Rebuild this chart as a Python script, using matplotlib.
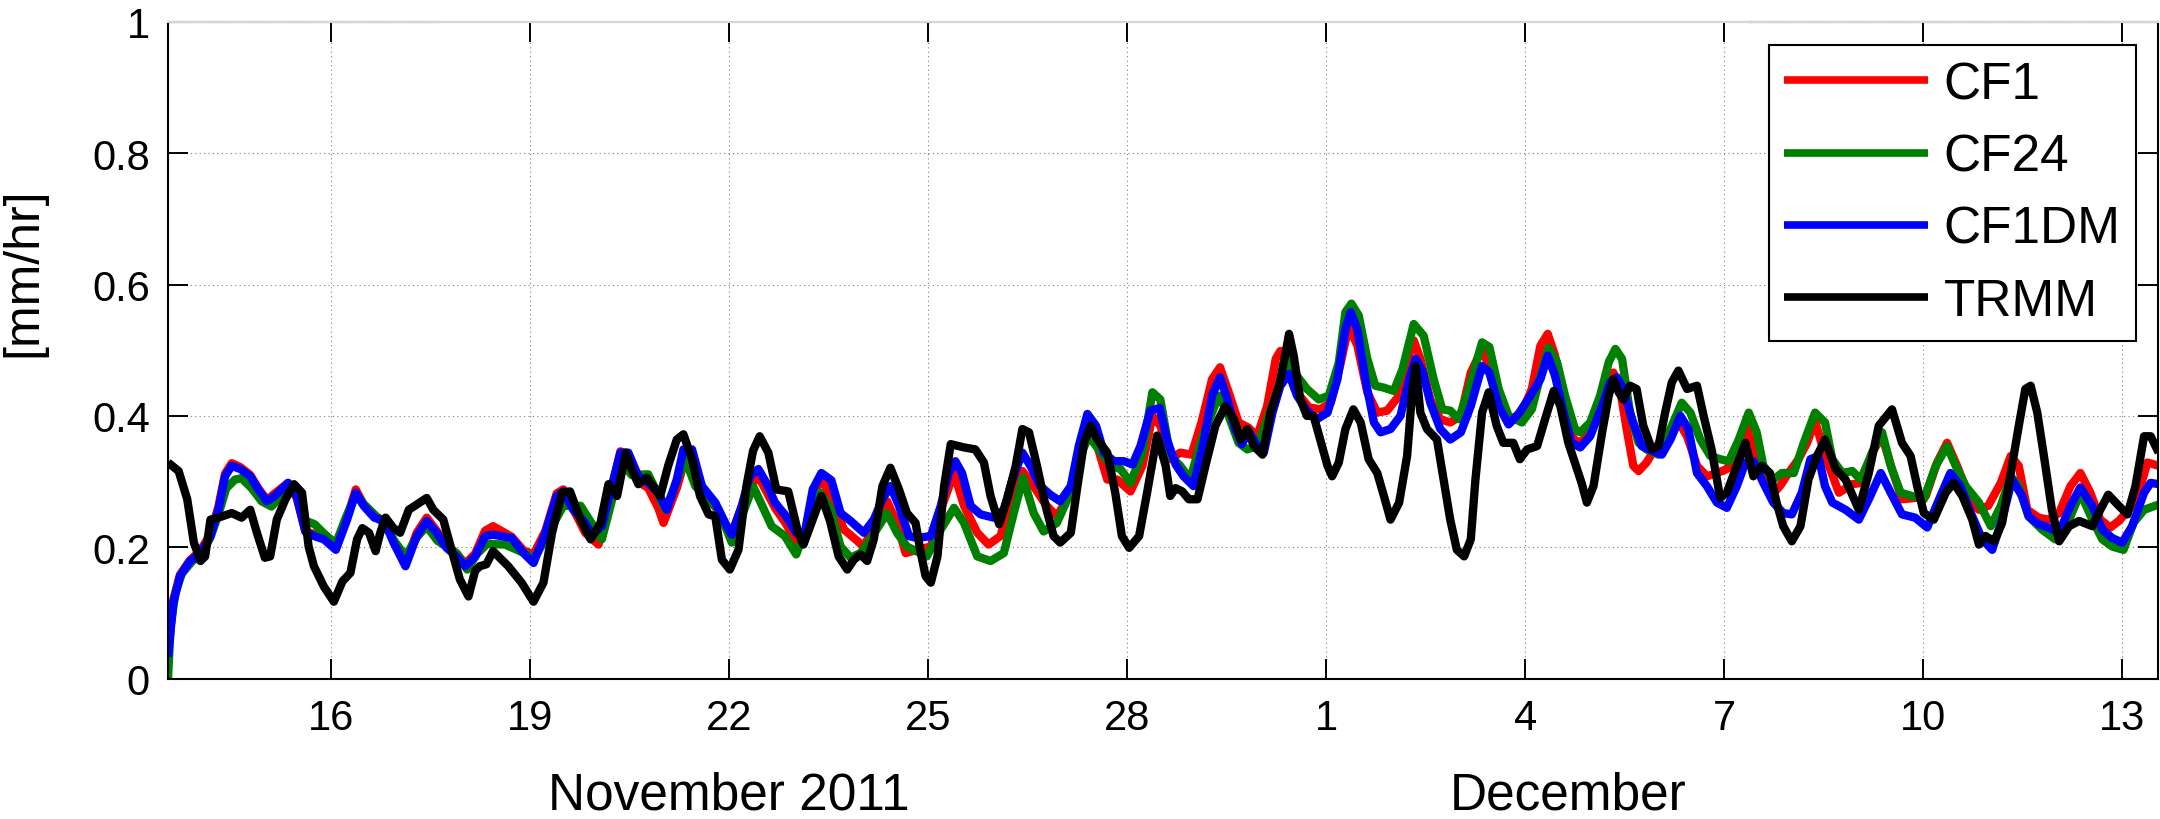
import matplotlib
matplotlib.use("Agg")
import matplotlib.pyplot as plt
import matplotlib.transforms as mtransforms

plt.rcParams["font.family"] = ["Liberation Sans", "DejaVu Sans"]

# x values are day numbers counted from 31 Oct 2011 (16 = 16 Nov, 31 = 1 Dec)
# ── CF1 (red) ────────────────────────────────────────────────────────────────
cf1_day = [13.54, 13.62, 13.72, 13.87, 14.03, 14.18, 14.30, 14.40, 14.50, 14.63,
           14.78, 14.90, 15.03, 15.15, 15.25, 15.35, 15.48, 15.61, 15.74, 15.89,
           16.07, 16.24, 16.37, 16.49, 16.65, 16.80, 16.94, 17.12, 17.29, 17.44,
           17.59, 17.74, 17.89, 18.02, 18.17, 18.32, 18.44, 18.72, 18.90, 19.05,
           19.23, 19.40, 19.50, 19.65, 19.83, 20.03, 20.23, 20.36, 20.48, 20.63,
           20.78, 20.93, 21.01, 21.21, 21.31, 21.44, 21.59, 21.79, 21.94, 22.04,
           22.19, 22.31, 22.45, 22.56, 22.69, 22.86, 23.01, 23.14, 23.26, 23.39,
           23.53, 23.73, 24.03, 24.23, 24.38, 24.53, 24.66, 24.83, 25.04, 25.21,
           25.39, 25.54, 25.74, 25.91, 26.09, 26.27, 26.42, 26.59, 26.77, 26.94,
           27.12, 27.30, 27.42, 27.55, 27.70, 27.85, 28.05, 28.23, 28.38, 28.50,
           28.65, 28.80, 28.97, 29.12, 29.28, 29.40, 29.53, 29.68, 29.83, 29.96,
           30.11, 30.24, 30.31, 30.41, 30.56, 30.74, 30.91, 31.07, 31.22, 31.34,
           31.47, 31.62, 31.77, 31.92, 32.10, 32.25, 32.32, 32.42, 32.57, 32.72,
           32.87, 33.03, 33.18, 33.35, 33.47, 33.62, 33.77, 33.97, 34.10, 34.23,
           34.34, 34.45, 34.60, 34.73, 34.85, 35.01, 35.18, 35.33, 35.43, 35.53,
           35.63, 35.71, 35.83, 35.98, 36.14, 36.29, 36.44, 36.59, 36.74, 36.89,
           37.04, 37.19, 37.33, 37.47, 37.59, 37.72, 37.84, 37.97, 38.12, 38.25,
           38.37, 38.52, 38.73, 38.93, 39.08, 39.23, 39.38, 39.53, 39.68, 39.88,
           40.04, 40.21, 40.36, 40.51, 40.69, 40.84, 40.98, 41.17, 41.32, 41.44,
           41.57, 41.74, 41.89, 42.05, 42.22, 42.37, 42.52, 42.67, 42.82, 42.95,
           43.10, 43.25, 43.38, 43.55]
cf1_val = [0.040, 0.120, 0.158, 0.180, 0.195, 0.220, 0.262, 0.312, 0.328, 0.322,
           0.310, 0.290, 0.272, 0.282, 0.290, 0.298, 0.275, 0.224, 0.220, 0.220,
           0.205, 0.245, 0.288, 0.265, 0.248, 0.240, 0.210, 0.175, 0.222, 0.245,
           0.225, 0.205, 0.190, 0.175, 0.190, 0.225, 0.232, 0.216, 0.195, 0.189,
           0.225, 0.282, 0.288, 0.258, 0.222, 0.204, 0.290, 0.346, 0.340, 0.300,
           0.290, 0.260, 0.237, 0.290, 0.325, 0.325, 0.280, 0.262, 0.232, 0.222,
           0.262, 0.295, 0.306, 0.285, 0.260, 0.235, 0.207, 0.220, 0.280, 0.303,
           0.278, 0.227, 0.201, 0.242, 0.270, 0.237, 0.191, 0.196, 0.201, 0.263,
           0.313, 0.263, 0.222, 0.204, 0.217, 0.278, 0.316, 0.293, 0.265, 0.247,
           0.278, 0.344, 0.380, 0.354, 0.303, 0.303, 0.285, 0.324, 0.400, 0.385,
           0.334, 0.344, 0.341, 0.390, 0.456, 0.474, 0.436, 0.390, 0.382, 0.369,
           0.415, 0.487, 0.499, 0.481, 0.436, 0.413, 0.410, 0.420, 0.481, 0.537,
           0.507, 0.436, 0.405, 0.408, 0.431, 0.492, 0.515, 0.487, 0.425, 0.395,
           0.390, 0.400, 0.466, 0.502, 0.471, 0.415, 0.390, 0.410, 0.441, 0.507,
           0.525, 0.492, 0.415, 0.364, 0.359, 0.385, 0.431, 0.466, 0.441, 0.380,
           0.324, 0.316, 0.329, 0.354, 0.369, 0.395, 0.369, 0.324, 0.308, 0.313,
           0.319, 0.344, 0.385, 0.339, 0.303, 0.280, 0.293, 0.313, 0.334, 0.359,
           0.392, 0.340, 0.283, 0.296, 0.298, 0.344, 0.369, 0.319, 0.273, 0.275,
           0.278, 0.329, 0.359, 0.324, 0.278, 0.257, 0.263, 0.298, 0.339, 0.324,
           0.257, 0.245, 0.242, 0.252, 0.293, 0.313, 0.283, 0.242, 0.230, 0.240,
           0.257, 0.283, 0.329, 0.324]

# ── CF24 (green) ─────────────────────────────────────────────────────────────
cf24_day = [13.54, 13.58, 13.65, 13.75, 13.90, 14.05, 14.18, 14.30, 14.42, 14.55,
            14.65, 14.80, 14.95, 15.10, 15.22, 15.35, 15.48, 15.62, 15.75, 15.90,
            16.07, 16.22, 16.37, 16.50, 16.65, 16.80, 16.95, 17.12, 17.29, 17.44,
            17.60, 17.75, 17.90, 18.05, 18.20, 18.35, 18.62, 19.07, 19.50, 19.76,
            20.08, 20.38, 20.53, 20.78, 21.04, 21.34, 21.49, 21.84, 22.04, 22.36,
            22.64, 22.84, 23.01, 23.37, 23.52, 23.68, 23.83, 23.98, 24.16, 24.38,
            24.53, 24.68, 24.98, 25.19, 25.39, 25.54, 25.74, 25.94, 26.14, 26.29,
            26.43, 26.59, 26.74, 26.94, 27.10, 27.27, 27.42, 27.57, 27.75, 27.90,
            28.05, 28.23, 28.38, 28.50, 28.65, 28.80, 28.95, 29.12, 29.38, 29.51,
            29.68, 29.81, 29.96, 30.11, 30.29, 30.41, 30.56, 30.71, 30.89, 31.04,
            31.19, 31.29, 31.38, 31.49, 31.62, 31.74, 31.87, 32.02, 32.15, 32.32,
            32.47, 32.62, 32.75, 32.87, 33.00, 33.15, 33.35, 33.46, 33.60, 33.75,
            33.95, 34.10, 34.23, 34.35, 34.48, 34.60, 34.75, 34.83, 34.98, 35.13,
            35.26, 35.36, 35.46, 35.58, 35.71, 35.83, 36.01, 36.19, 36.36, 36.49,
            36.64, 36.79, 36.94, 37.07, 37.22, 37.37, 37.49, 37.59, 37.74, 37.87,
            38.05, 38.20, 38.37, 38.52, 38.63, 38.78, 38.93, 39.06, 39.23, 39.38,
            39.51, 39.66, 39.83, 40.01, 40.19, 40.36, 40.49, 40.64, 40.84, 41.02,
            41.17, 41.32, 41.44, 41.59, 41.79, 41.99, 42.20, 42.37, 42.55, 42.70,
            42.85, 43.02, 43.17, 43.33, 43.55]
cf24_val = [0.000, 0.080, 0.130, 0.160, 0.178, 0.190, 0.215, 0.250, 0.290, 0.303,
            0.305, 0.290, 0.270, 0.262, 0.275, 0.295, 0.280, 0.240, 0.235, 0.220,
            0.205, 0.245, 0.280, 0.265, 0.250, 0.235, 0.210, 0.186, 0.215, 0.232,
            0.210, 0.200, 0.190, 0.166, 0.190, 0.205, 0.204, 0.184, 0.263, 0.263,
            0.212, 0.329, 0.310, 0.311, 0.257, 0.334, 0.293, 0.257, 0.207, 0.293,
            0.232, 0.217, 0.189, 0.283, 0.260, 0.201, 0.184, 0.191, 0.217, 0.252,
            0.222, 0.201, 0.186, 0.227, 0.260, 0.237, 0.186, 0.179, 0.191, 0.252,
            0.306, 0.252, 0.224, 0.237, 0.273, 0.334, 0.369, 0.349, 0.324, 0.319,
            0.298, 0.344, 0.436, 0.425, 0.339, 0.324, 0.303, 0.364, 0.431, 0.405,
            0.359, 0.349, 0.354, 0.395, 0.446, 0.487, 0.461, 0.441, 0.425, 0.431,
            0.481, 0.558, 0.571, 0.553, 0.487, 0.446, 0.443, 0.438, 0.471, 0.540,
            0.522, 0.456, 0.410, 0.408, 0.395, 0.441, 0.512, 0.505, 0.441, 0.400,
            0.390, 0.410, 0.461, 0.504, 0.482, 0.431, 0.380, 0.375, 0.390, 0.431,
            0.482, 0.502, 0.487, 0.405, 0.359, 0.349, 0.341, 0.380, 0.420, 0.405,
            0.364, 0.339, 0.334, 0.331, 0.364, 0.405, 0.375, 0.324, 0.303, 0.313,
            0.313, 0.359, 0.405, 0.390, 0.334, 0.313, 0.316, 0.303, 0.344, 0.375,
            0.324, 0.283, 0.278, 0.273, 0.324, 0.354, 0.324, 0.293, 0.268, 0.232,
            0.263, 0.308, 0.293, 0.247, 0.227, 0.212, 0.242, 0.283, 0.242, 0.212,
            0.201, 0.196, 0.237, 0.257, 0.265]

# ── CF1DM (blue) ─────────────────────────────────────────────────────────────
cf1dm_day = [13.54, 13.62, 13.72, 13.87, 14.03, 14.18, 14.30, 14.40, 14.50, 14.63,
             14.78, 14.90, 15.03, 15.15, 15.35, 15.48, 15.61, 15.74, 15.89, 16.07,
             16.24, 16.37, 16.49, 16.65, 16.80, 16.94, 17.12, 17.29, 17.44, 17.59,
             17.74, 17.89, 18.02, 18.17, 18.32, 18.44, 18.72, 18.90, 19.05, 19.23,
             19.40, 19.50, 19.65, 19.83, 19.93, 20.08, 20.23, 20.36, 20.48, 20.63,
             20.78, 20.93, 21.06, 21.21, 21.31, 21.44, 21.59, 21.79, 21.94, 22.04,
             22.19, 22.31, 22.44, 22.56, 22.69, 22.86, 23.01, 23.14, 23.26, 23.39,
             23.54, 23.68, 23.83, 24.03, 24.18, 24.31, 24.43, 24.56, 24.71, 24.83,
             25.04, 25.19, 25.31, 25.41, 25.51, 25.64, 25.79, 25.99, 26.14, 26.27,
             26.42, 26.54, 26.69, 26.84, 26.99, 27.15, 27.27, 27.40, 27.53, 27.65,
             27.80, 27.95, 28.08, 28.20, 28.35, 28.49, 28.60, 28.73, 28.85, 29.00,
             29.15, 29.28, 29.40, 29.51, 29.63, 29.73, 29.83, 29.96, 30.06, 30.19,
             30.31, 30.44, 30.56, 30.71, 30.86, 31.02, 31.17, 31.29, 31.37, 31.47,
             31.59, 31.72, 31.82, 31.97, 32.12, 32.25, 32.35, 32.45, 32.57, 32.72,
             32.87, 33.03, 33.18, 33.35, 33.46, 33.60, 33.75, 33.90, 34.08, 34.23,
             34.34, 34.45, 34.58, 34.70, 34.83, 34.98, 35.16, 35.28, 35.38, 35.48,
             35.61, 35.76, 35.91, 36.06, 36.19, 36.34, 36.46, 36.59, 36.74, 36.89,
             37.04, 37.19, 37.32, 37.44, 37.59, 37.74, 37.89, 38.02, 38.17, 38.30,
             38.42, 38.52, 38.63, 38.83, 39.03, 39.18, 39.36, 39.51, 39.68, 39.88,
             40.06, 40.24, 40.41, 40.56, 40.74, 40.89, 41.04, 41.19, 41.34, 41.49,
             41.59, 41.74, 41.89, 42.05, 42.22, 42.37, 42.55, 42.70, 42.85, 43.00,
             43.15, 43.33, 43.43, 43.55]
cf1dm_val = [0.033, 0.115, 0.156, 0.179, 0.191, 0.217, 0.257, 0.308, 0.324, 0.319,
             0.308, 0.288, 0.270, 0.278, 0.298, 0.278, 0.224, 0.217, 0.212, 0.196,
             0.242, 0.283, 0.263, 0.245, 0.240, 0.207, 0.171, 0.217, 0.240, 0.222,
             0.199, 0.186, 0.171, 0.186, 0.217, 0.219, 0.214, 0.191, 0.176, 0.222,
             0.278, 0.285, 0.257, 0.237, 0.219, 0.232, 0.293, 0.344, 0.344, 0.308,
             0.298, 0.283, 0.257, 0.303, 0.349, 0.349, 0.293, 0.268, 0.237, 0.219,
             0.263, 0.308, 0.319, 0.298, 0.268, 0.247, 0.222, 0.222, 0.288, 0.313,
             0.302, 0.252, 0.240, 0.222, 0.242, 0.273, 0.293, 0.263, 0.217, 0.214,
             0.217, 0.263, 0.313, 0.331, 0.313, 0.263, 0.250, 0.245, 0.257, 0.303,
             0.344, 0.324, 0.293, 0.280, 0.270, 0.293, 0.354, 0.403, 0.385, 0.344,
             0.331, 0.331, 0.326, 0.354, 0.408, 0.412, 0.364, 0.326, 0.308, 0.293,
             0.359, 0.431, 0.459, 0.425, 0.380, 0.357, 0.377, 0.354, 0.344, 0.405,
             0.446, 0.464, 0.431, 0.408, 0.395, 0.405, 0.456, 0.532, 0.558, 0.532,
             0.456, 0.390, 0.375, 0.380, 0.400, 0.456, 0.487, 0.469, 0.420, 0.380,
             0.364, 0.375, 0.415, 0.476, 0.466, 0.415, 0.387, 0.403, 0.431, 0.456,
             0.492, 0.461, 0.405, 0.359, 0.352, 0.369, 0.415, 0.451, 0.459, 0.441,
             0.395, 0.354, 0.347, 0.341, 0.364, 0.400, 0.380, 0.313, 0.293, 0.268,
             0.260, 0.293, 0.329, 0.331, 0.298, 0.268, 0.252, 0.250, 0.283, 0.334,
             0.339, 0.293, 0.268, 0.257, 0.242, 0.273, 0.313, 0.283, 0.250, 0.245,
             0.230, 0.273, 0.313, 0.293, 0.247, 0.212, 0.196, 0.242, 0.303, 0.278,
             0.247, 0.235, 0.230, 0.222, 0.263, 0.291, 0.263, 0.227, 0.214, 0.207,
             0.232, 0.283, 0.298, 0.296]

# ── TRMM (black) ─────────────────────────────────────────────────────────────
trmm_day = [13.54, 13.70, 13.83, 13.93, 14.03, 14.10, 14.18, 14.30, 14.50, 14.65,
            14.78, 14.88, 15.00, 15.08, 15.18, 15.31, 15.44, 15.56, 15.66, 15.74,
            15.89, 16.04, 16.17, 16.29, 16.39, 16.47, 16.57, 16.67, 16.74, 16.82,
            16.94, 17.04, 17.17, 17.29, 17.44, 17.54, 17.69, 17.82, 17.94, 18.07,
            18.17, 18.24, 18.34, 18.44, 18.67, 18.87, 19.05, 19.20, 19.33, 19.48,
            19.60, 19.76, 19.91, 20.06, 20.18, 20.31, 20.44, 20.53, 20.63, 20.76,
            20.96, 21.08, 21.21, 21.31, 21.44, 21.56, 21.69, 21.79, 21.89, 22.01,
            22.14, 22.26, 22.36, 22.46, 22.59, 22.71, 22.89, 23.04, 23.12, 23.24,
            23.39, 23.52, 23.65, 23.78, 23.88, 23.98, 24.08, 24.18, 24.31, 24.43,
            24.56, 24.68, 24.81, 24.88, 24.96, 25.04, 25.14, 25.24, 25.34, 25.54,
            25.71, 25.84, 25.94, 26.07, 26.19, 26.32, 26.42, 26.52, 26.64, 26.77,
            26.89, 26.99, 27.15, 27.25, 27.35, 27.45, 27.55, 27.70, 27.82, 27.92,
            28.03, 28.18, 28.30, 28.45, 28.58, 28.65, 28.73, 28.83, 28.93, 29.06,
            29.18, 29.33, 29.48, 29.61, 29.71, 29.81, 29.91, 30.04, 30.16, 30.29,
            30.39, 30.44, 30.51, 30.61, 30.71, 30.81, 30.91, 31.02, 31.09, 31.19,
            31.29, 31.41, 31.52, 31.64, 31.77, 31.87, 31.97, 32.10, 32.22, 32.30,
            32.35, 32.42, 32.52, 32.67, 32.77, 32.87, 32.97, 33.08, 33.18, 33.25,
            33.35, 33.45, 33.57, 33.67, 33.82, 33.92, 34.03, 34.18, 34.30, 34.43,
            34.53, 34.65, 34.78, 34.85, 34.93, 35.03, 35.16, 35.26, 35.33, 35.41,
            35.48, 35.58, 35.68, 35.78, 35.91, 36.01, 36.11, 36.21, 36.31, 36.44,
            36.59, 36.69, 36.81, 36.94, 37.04, 37.19, 37.32, 37.44, 37.57, 37.69,
            37.79, 37.89, 38.02, 38.15, 38.27, 38.40, 38.52, 38.68, 38.83, 39.03,
            39.18, 39.33, 39.53, 39.68, 39.81, 39.91, 40.01, 40.16, 40.34, 40.46,
            40.59, 40.74, 40.84, 40.94, 41.07, 41.19, 41.32, 41.45, 41.54, 41.62,
            41.72, 41.82, 41.94, 42.05, 42.20, 42.35, 42.55, 42.67, 42.79, 42.95,
            43.08, 43.20, 43.33, 43.43, 43.55]
trmm_val = [0.329, 0.316, 0.273, 0.207, 0.179, 0.186, 0.242, 0.245, 0.252, 0.245,
            0.257, 0.222, 0.184, 0.186, 0.242, 0.273, 0.296, 0.283, 0.201, 0.171,
            0.140, 0.117, 0.148, 0.161, 0.212, 0.229, 0.222, 0.194, 0.222, 0.245,
            0.229, 0.222, 0.257, 0.265, 0.275, 0.257, 0.242, 0.194, 0.151, 0.125,
            0.164, 0.171, 0.174, 0.194, 0.171, 0.146, 0.117, 0.146, 0.222, 0.283,
            0.285, 0.242, 0.212, 0.237, 0.296, 0.278, 0.344, 0.319, 0.296, 0.306,
            0.278, 0.324, 0.364, 0.372, 0.334, 0.278, 0.250, 0.247, 0.181, 0.166,
            0.196, 0.293, 0.347, 0.369, 0.344, 0.288, 0.285, 0.222, 0.204, 0.237,
            0.278, 0.240, 0.186, 0.166, 0.181, 0.189, 0.179, 0.212, 0.293, 0.321,
            0.288, 0.252, 0.237, 0.196, 0.156, 0.146, 0.186, 0.293, 0.357, 0.352,
            0.349, 0.329, 0.278, 0.235, 0.273, 0.324, 0.380, 0.375, 0.324, 0.263,
            0.217, 0.207, 0.222, 0.293, 0.359, 0.385, 0.364, 0.344, 0.283, 0.217,
            0.199, 0.217, 0.283, 0.370, 0.324, 0.278, 0.290, 0.285, 0.273, 0.273,
            0.324, 0.385, 0.415, 0.395, 0.364, 0.380, 0.354, 0.341, 0.405, 0.446,
            0.497, 0.525, 0.492, 0.425, 0.400, 0.400, 0.364, 0.324, 0.308, 0.329,
            0.380, 0.410, 0.390, 0.334, 0.313, 0.278, 0.242, 0.268, 0.339, 0.441,
            0.476, 0.405, 0.380, 0.364, 0.303, 0.242, 0.196, 0.186, 0.212, 0.303,
            0.405, 0.436, 0.385, 0.359, 0.359, 0.334, 0.349, 0.354, 0.395, 0.438,
            0.415, 0.359, 0.319, 0.298, 0.268, 0.293, 0.375, 0.431, 0.456, 0.436,
            0.425, 0.446, 0.441, 0.385, 0.349, 0.354, 0.405, 0.451, 0.469, 0.441,
            0.446, 0.400, 0.349, 0.275, 0.283, 0.324, 0.359, 0.308, 0.324, 0.313,
            0.268, 0.232, 0.209, 0.232, 0.303, 0.339, 0.364, 0.319, 0.303, 0.257,
            0.313, 0.385, 0.410, 0.359, 0.339, 0.293, 0.252, 0.242, 0.283, 0.298,
            0.278, 0.242, 0.204, 0.217, 0.209, 0.237, 0.313, 0.390, 0.441, 0.446,
            0.405, 0.339, 0.257, 0.209, 0.232, 0.240, 0.232, 0.257, 0.280, 0.263,
            0.250, 0.293, 0.369, 0.369, 0.344]

tick_days = [16, 19, 22, 25, 28, 31, 34, 37, 40, 43]
tick_labels = ["16", "19", "22", "25", "28", "1", "4", "7", "10", "13"]
month_names = ["November 2011", "December"]
month_centres = [22.0, 34.65]

# ── Figure ────────────────────────────────────────────────────────────────────
W, H = 2160, 820
fig = plt.figure(figsize=(W / 100, H / 100), dpi=100)
ax = fig.add_axes([168 / W, 1 - 679.5 / H, 1990 / W, 656.5 / H])

series = [
    (cf1_day, cf1_val, (1, 0, 0), "CF1"),
    (cf24_day, cf24_val, (0, 0.5, 0), "CF24"),
    (cf1dm_day, cf1dm_val, (0, 0, 1), "CF1DM"),
    (trmm_day, trmm_val, (0, 0, 0), "TRMM"),
]
for days, vals, color, name in series:
    ax.plot(days, vals, color=color, lw=6, label=name,
            solid_joinstyle="round", solid_capstyle="butt")

ax.set_xlim(13.54, 43.54)
ax.set_ylim(0, 1)
ax.set_xticks(tick_days)
ax.set_xticklabels(tick_labels)
ax.set_yticks([0, 0.2, 0.4, 0.6, 0.8, 1.0])
ax.set_yticklabels(["0", "0.2", "0.4", "0.6", "0.8", "1"])

ax.grid(True, linestyle=(0, (1, 3)), color="#7f7f7f", linewidth=0.8)
ax.tick_params(direction="in", length=14.5, width=1.4, top=True, right=True,
               labelsize=30, colors="black")
ax.tick_params(axis="x", pad=14)
ax.tick_params(axis="y", pad=13)
for side in ax.spines.values():
    side.set_linewidth(1.5)

# MATLAB export leaves the middle of the top box edge pale grey
ax.spines["top"].set_color("#d6d6d6")
for x0, x1 in [(0, 0.1366), (0.7936, 1.0)]:
    ax.plot([x0, x1], [1, 1], color="black", lw=1.5, transform=ax.transAxes,
            clip_on=False, solid_capstyle="butt")

ax.set_ylabel("[mm/hr]", fontsize=36)
label_trans = mtransforms.blended_transform_factory(fig.transFigure, ax.transAxes)
ax.yaxis.set_label_coords(46 / W, 0.62, transform=label_trans)

# month labels under the day ticks
trans = mtransforms.blended_transform_factory(ax.transData, ax.transAxes)
for name, xc in zip(month_names, month_centres):
    ax.text(xc, -0.178, name, transform=trans, ha="center", va="center", fontsize=37)

leg = ax.legend(loc="upper right", bbox_to_anchor=(0.989, 0.965), borderaxespad=0,
                fontsize=37, handlelength=2.8, handletextpad=0.3, labelspacing=0.45,
                borderpad=0.3, fancybox=False, framealpha=1, edgecolor="black")
leg.get_frame().set_linewidth(1.5)
for line in leg.get_lines():
    line.set_linewidth(5.5)

fig.savefig("out.png", dpi=100)
